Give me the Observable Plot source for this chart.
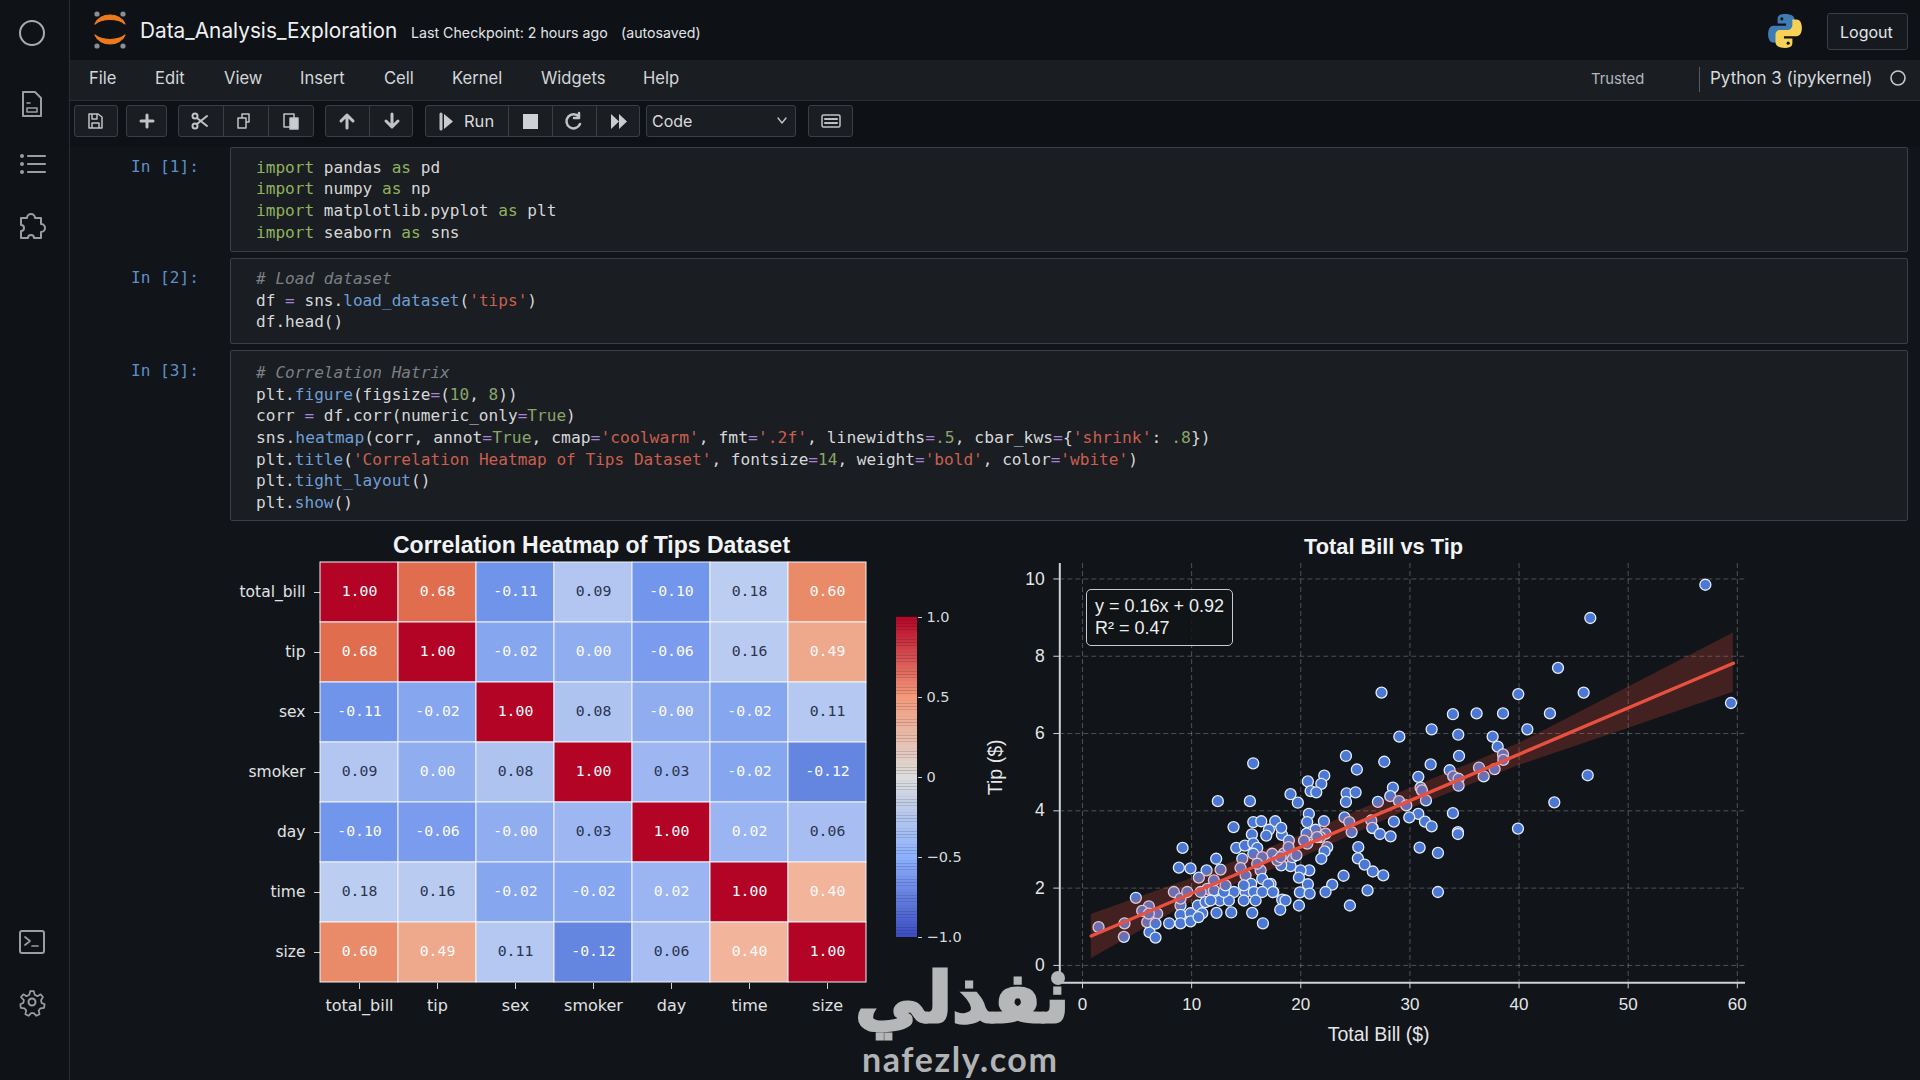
<!DOCTYPE html>
<html><head><meta charset="utf-8">
<script src="https://cdn.jsdelivr.net/npm/d3@7"></script>
<script src="https://cdn.jsdelivr.net/npm/@observablehq/plot@0.6"></script>
<style>
html,body{margin:0;padding:0;width:1920px;height:1080px;overflow:hidden;background:#111418;}
#page{position:absolute;left:0;top:0;width:1920px;height:1080px;background:#111418;font-family:Inter,Roboto,sans-serif;color:#e6e8ea;overflow:hidden;}
.a{position:absolute;white-space:pre;}
.t{transform:translateY(-50%);}
.cell{position:absolute;box-sizing:border-box;border:1px solid #3b4046;border-radius:2px;background:#1a1d21;left:230px;width:1678px;}
.code{font-family:"DejaVu Sans Mono",monospace;font-size:16.1px;color:#d6d8da;}
.code i{font-style:normal;} .k{color:#8fb35f}.f{color:#6f9fd6}.s{color:#cb5f50}.o{color:#a685d6}.n{color:#8aa56a}.c{color:#7b8085;font-style:italic!important}
svg{overflow:visible;display:block}
.plotbox{position:absolute;}
.plotbox svg{background:transparent!important;display:block;}
</style></head><body><div id="page"></div>
<script>
// ---------- chart data ----------
const heatLabels = ["total_bill","tip","sex","smoker","day","time","size"];
const corrTotalBill = [1,0.68,-0.11,0.09,-0.10,0.18,0.60];
const corrTip       = [0.68,1,-0.02,0.00,-0.06,0.16,0.49];
const corrSex       = [-0.11,-0.02,1,0.08,-0.001,-0.02,0.11];
const corrSmoker    = [0.09,0.00,0.08,1,0.03,-0.02,-0.12];
const corrDay       = [-0.10,-0.06,-0.001,0.03,1,0.02,0.06];
const corrTime      = [0.18,0.16,-0.02,-0.02,0.02,1,0.40];
const corrSize      = [0.60,0.49,0.11,-0.12,0.06,0.40,1];
const corrRows = [corrTotalBill,corrTip,corrSex,corrSmoker,corrDay,corrTime,corrSize];
const cellStops  = [-0.12,-0.11,-0.06,-0.02,0,0.02,0.06,0.09,0.18,0.40,0.49,0.60,0.68,1];
const cellColors = ["#6486e0","#7094ea","#7b9cee","#86a6f0","#90adf0","#9ab5f2","#a8bef2","#b2c6f1","#bccdf2","#f2b49a","#eea88c","#e98b69","#df6d4e","#b40426"];
const barStops  = [-1,-0.5,0,0.5,1];
const barColors = ["#3b4cc0","#8db0fe","#dddddd","#f49a7b","#b40426"];
const barTickLabels = ["\u22121.0","\u22120.5","0","0.5","1.0"];
const billTipPairs = [
[57.07,9.85],[46.53,8.99],[43.57,7.70],[59.42,6.79],[45.92,7.06],[39.93,7.02],[27.4,7.06],[33.94,6.50],[36.11,6.52],[38.53,6.52],[42.83,6.52],[40.76,6.11],[31.99,6.11],[29.03,5.92],[34.43,5.97],[37.58,5.92],[38.04,5.66],[38.53,5.46],[38.56,5.32],[34.5,5.42],[27.65,5.27],[31.9,5.20],[33.64,5.05],[36.33,5.12],[37.76,5.08],[36.76,4.89],[46.29,4.92],[30.77,4.88],[33.97,4.89],[34.46,4.83],[34.46,4.65],[28.44,4.60],[30.98,4.60],[31.1,4.53],[28.2,4.38],[27.07,4.23],[31.47,4.27],[29.0,4.25],[29.67,4.14],[43.23,4.22],[33.94,3.94],[30.77,3.92],[29.94,3.83],[28.53,3.72],[31.38,3.72],[31.99,3.60],[39.9,3.54],[34.4,3.45],[26.6,3.55],
[24.14,5.42],[25.14,5.07],[22.15,4.91],[20.65,4.76],[21.88,4.70],[20.9,4.51],[21.42,4.48],[19.06,4.43],[19.73,4.21],[24.2,4.45],[25.02,4.48],[24.14,4.23],[20.74,3.92],[20.59,3.71],[17.66,3.73],[22.12,3.73],[21.36,3.51],[20.53,3.41],[24.01,3.83],[24.44,3.71],[24.66,3.45],[26.46,3.75],[26.55,3.56],[27.25,3.40],[28.23,3.34],[18.27,3.38],[18.21,3.56],[18.91,3.23],[22.27,3.41],[21.8,3.32],[20.59,3.15],[22.42,3.06],[22.18,2.95],[21.88,2.76],[25.27,3.06],[25.23,2.77],[25.85,2.61],[26.6,2.43],[27.56,2.33],[23.92,2.32],[22.88,2.09],[22.27,1.90],[26.12,1.94],[24.5,1.55],[30.89,3.05],[32.57,2.91],[34.4,3.40],[32.57,1.90],[20.78,2.46],[19.98,2.46],[19.83,2.27],[20.65,2.10],[19.92,1.89],[20.81,1.86],[19.83,1.55],[17.48,1.90],[18.3,1.70],[18.6,1.68],[18.12,1.44],[19.06,2.57],[18.21,2.59],[19.22,2.80],[18.45,2.90],[18.88,3.06],[17.85,2.80],[20.3,3.23],[21.5,3.32],[17.38,2.89],[17.23,2.11],
[9.17,3.04],[13.84,3.58],[15.65,3.71],[16.38,3.73],[17.08,3.51],[15.52,3.39],[16.84,3.36],[14.09,3.04],[14.88,3.10],[15.65,3.16],[16.01,3.04],[15.65,2.89],[14.64,2.76],[17.85,2.72],[12.25,2.76],[8.83,2.53],[9.9,2.51],[12.65,2.48],[11.37,2.46],[10.66,2.27],[14.48,2.52],[14.94,2.33],[16.32,2.46],[16.47,2.24],[15.46,2.11],[17.02,2.10],[13.87,1.90],[14.94,1.90],[15.7,1.90],[16.47,1.90],[17.44,1.90],[12.59,1.68],[13.41,1.68],[14.78,1.68],[15.86,1.68],[8.37,1.90],[4.89,1.75],[6.08,1.53],[5.47,1.41],[6.84,1.34],[8.98,1.55],[8.98,1.31],[9.9,1.35],[10.57,1.55],[10.97,1.35],[12.28,1.36],[13.63,1.37],[15.55,1.36],[16.53,1.09],[7.94,1.09],[8.98,1.09],[9.9,1.14],[3.85,1.09],[3.79,0.74],[6.14,0.86],[6.69,0.72],[5.93,1.12],[6.69,1.08],[10.63,1.25],[11.43,1.98],[12.04,1.94],[12.95,1.90],[11.27,1.64],[8.98,1.73],[9.6,1.90],[10.82,1.90],[11.73,1.68],[6.08,1.34],[1.47,0.99],[19.6,2.85],[18.15,2.80],[16.47,2.80],[14.78,2.07],[13.1,2.07],[12.04,2.20],[16.01,2.63],[12.4,4.25],[15.34,4.25],[15.64,5.23]
];
const lineBill = [0.8,59.64];
const lineTip  = [0.76,7.82];
const bandBill = [0.8,10,20,30,40,50,59.64];
const bandLow  = [0.17,1.64,2.77,4.05,5.17,6.13,7.07];
const bandHigh = [1.32,2.25,3.36,4.58,5.74,7.20,8.60];
const scatterXTicks = [0,10,20,30,40,50,60];
const scatterYTicks = [0,2,4,6,8,10];

// ---------- page chrome ----------
const page = document.getElementById("page");
function rect(x,y,w,h,css){const d=document.createElement("div");d.className="a";d.style.cssText=`left:${x}px;top:${y}px;width:${w}px;height:${h}px;${css||""}`;page.appendChild(d);return d;}
function txt(s,x,cy,css){const d=document.createElement("div");d.className="a t";d.style.cssText=`left:${x}px;top:${cy}px;${css||""}`;d.textContent=s;page.appendChild(d);return d;}
function html(s,x,cy,cls,css){const d=document.createElement("div");d.className="a t "+(cls||"");d.style.cssText=`left:${x}px;top:${cy}px;${css||""}`;d.innerHTML=s;page.appendChild(d);return d;}
function icon(inner,x,y,w,h,vb){const d=document.createElement("div");d.className="a";d.style.cssText=`left:${x}px;top:${y}px;width:${w}px;height:${h}px`;d.innerHTML=`<svg xmlns="http://www.w3.org/2000/svg" width="${w}" height="${h}" viewBox="${vb||`0 0 ${w} ${h}`}" fill="none" stroke="#c0c3c7" stroke-width="2" stroke-linecap="round" stroke-linejoin="round">${inner}</svg>`;page.appendChild(d);}

rect(0,0,69,1080,"background:#0f1216;border-right:1.5px solid #2a2e33;");
rect(70,0,1850,60,"background:#0e1116;");
rect(70,60,1850,41,"background:#1a1e22;border-bottom:1px solid #2a2e33;box-sizing:border-box;");
rect(70,101,1850,46,"background:#0e1116;");
// sidebar icons
icon(`<circle cx="14" cy="14" r="12" stroke="#a8abb0"/>`,18,19,28,28);
icon(`<path d="M4 2h12l6 6v18H4z" stroke="#9a9da2"/><path d="M8 13h3M8 18h10v4H8z" stroke-width="1.6" stroke="#9a9da2"/>`,19,90,26,28);
icon(`<path d="M9 4h17M9 12h17M9 20h17" stroke-width="2.2" stroke="#9a9da2"/><circle cx="3" cy="4" r="1" stroke="#9a9da2"/><circle cx="3" cy="12" r="1" stroke="#9a9da2"/><circle cx="3" cy="20" r="1" stroke="#9a9da2"/>`,19,152,28,24);
icon(`<path d="M3 9h6a4 4 0 1 1 8 0h6v6a4 4 0 1 1 0 8v6h-7a3 3 0 1 0-6 0H3v-7a3 3 0 1 0 0-6z" stroke="#9a9da2"/>`,18,209,28,30);
icon(`<rect x="2" y="2" width="24" height="22" rx="2" stroke="#9a9da2"/><path d="M7 8l5 4-5 4M14 17h6" stroke-width="1.7" stroke="#9a9da2"/>`,18,929,28,26);
icon(`<circle cx="14" cy="14" r="3.5" stroke="#9a9da2"/><path d="M12 2h4l1 4 3 1.5 3.6-2 2.6 3-2.2 3.5.6 3 3.4 1.5-.6 4-4 .5-2 2.6 1 4-3.6 1.8-2.8-3h-3l-2.8 3-3.6-1.8 1-4-2-2.6-4-.5-.6-4 3.4-1.5.6-3L1.800 8.500l2.600-3 3.600 2L11 6z" transform="translate(1.4 1.4) scale(.9)" stroke-width="1.9" stroke="#9a9da2"/>`,18,988,28,28);
// logo
icon(`<path d="M5 15C10 3 30 3 35 15 28 9 12 9 5 15zM5 26c5 12 25 12 30 0-7 6-23 6-30 0z" fill="#ec7a1c" stroke="#ec7a1c" stroke-width="1.2"/><circle cx="7" cy="5" r="2.600" fill="#8a8f96" stroke="none"/><circle cx="33" cy="5" r="2.600" fill="#8a8f96" stroke="none"/><circle cx="7" cy="37" r="2.600" fill="#8a8f96" stroke="none"/><circle cx="33" cy="37" r="2.600" fill="#8a8f96" stroke="none"/>`,90,9,40,42);
txt("Data_Analysis_Exploration",140,30,"font-size:20.8px;color:#eef0f2;");
txt("Last Checkpoint: 2 hours ago",411,31.5,"font-size:14.2px;color:#e2e4e6;");
txt("(autosaved)",621,31.5,"font-size:14.2px;color:#e2e4e6;");
// python logo
icon(`<path d="M17 2c-7 0-7 3-7 5v4h8v2H6c-3 0-5 3-5 8s2 8 5 8h4v-5c0-3 2-5 5-5h7c2 0 4-2 4-4V7c0-3-3-5-9-5z" fill="#3f7cb4" stroke="none"/><path d="M17 34c7 0 7-3 7-5v-4h-8v-2h12c3 0 5-3 5-8s-2-8-5-8h-4v5c0 3-2 5-5 5h-7c-2 0-4 2-4 4v8c0 3 3 5 9 5z" fill="#f5d255" stroke="none"/><circle cx="14" cy="6.500" r="1.500" fill="#0e1116" stroke="none"/><circle cx="20" cy="29.500" r="1.500" fill="#0e1116" stroke="none"/>`,1766,12,38,38,"0 0 34 36");
rect(1827,13,81,37,"box-sizing:border-box;border:1px solid #3a3f45;border-radius:3px;background:#16191d;");
txt("Logout",1840,31.5,"font-size:16px;color:#e4e6e8;");
// menu
[["File",89],["Edit",155],["View",224],["Insert",300],["Cell",384],["Kernel",452],["Widgets",541],["Help",643]].forEach(([s,x])=>txt(s,x,78,"font-size:16.6px;color:#d4d6d9;"));
txt("Trusted",1591,78.5,"font-size:14.8px;color:#b4b7bb;");
rect(1699,67,1,25,"background:#555a60;");
txt("Python 3 (ipykernel)",1710,78,"font-size:17px;color:#d8dadd;");
icon(`<circle cx="9" cy="9" r="7" stroke="#c6c9cd" stroke-width="1.600"/>`,1889,69,18,18);
// toolbar
function btn(x,w,css){rect(x,105,w,32,"box-sizing:border-box;border:1px solid #3a3f45;border-radius:3px;background:#1a1d21;"+(css||""));}
btn(74,44);btn(126,41);btn(178,136);btn(325,88);btn(425,215);btn(808,45);
[223,268,369,508,552,596].forEach(x=>rect(x,105,1,32,"background:#3a3f45;"));
icon(`<path d="M2 2h9l4 3v11H2zM5 2v5h5V2M5 16v-5h7v5" stroke-width="1.500"/>`,87,112,18,18);
icon(`<path d="M8 2v12M2 8h12" stroke-width="3"/>`,139,113,16,16);
icon(`<circle cx="4" cy="4" r="2.500"/><circle cx="4" cy="14" r="2.500"/><path d="M6 6l10 8M6 12L16 4"/>`,191,112,18,18);
icon(`<path d="M6 6V2h7v8h-3M2 6h8v10H2z" stroke-width="1.500"/>`,236,112,17,18);
icon(`<path d="M2 3h10v13H2z" stroke-width="1.500"/><path d="M8 7h8v11H8z" stroke-width="1.500" fill="#c9ccd0"/>`,282,111,18,20);
icon(`<path d="M8 16V3M2 9l6-6 6 6" stroke-width="3"/>`,339,112,16,18);
icon(`<path d="M8 2v13M2 9l6 6 6-6" stroke-width="3"/>`,384,112,16,18);
icon(`<path d="M5 1l9 7.500L5 16z" fill="#c9ccd0" stroke="none"/><path d="M2 1v15" stroke-width="3"/>`,439,113,16,17);
txt("Run",464,121,"font-size:16.5px;color:#d8dadd;");
rect(523,114,15,15,"background:#cfd2d5;");
icon(`<path d="M14 5a7 7 0 1 0 1 7M14 1v5h-5" stroke-width="2.500"/>`,565,112,18,18);
icon(`<path d="M1 1l8 7.500L1 16zM9 1l8 7.500L9 16z" fill="#c9ccd0" stroke="none"/>`,610,113,18,17);
rect(646,105,150,32,"box-sizing:border-box;border:1px solid #3a3f45;border-radius:3px;background:#1a1d21;");
txt("Code",652,121,"font-size:16px;color:#d8dadd;");
icon(`<path d="M1 1l4 5 4-5" stroke-width="1.400"/>`,777,117,10,8);
icon(`<rect x="1" y="1" width="18" height="12" rx="1.500" stroke-width="1.500"/><path d="M4 5h12M4 9h12" stroke-width="2" stroke-dasharray="2 1.500"/>`,821,114,20,14);
// notebook cells
[[147,105],[258,86],[350,171]].forEach(([y,h])=>{const d=document.createElement("div");d.className="cell";d.style.top=y+"px";d.style.height=h+"px";page.appendChild(d);});
[["In [1]:",165.5],["In [2]:",276.5],["In [3]:",369.5]].forEach(([s,y])=>html(s,131,y,"code","color:#5f8fc8;"));
const kw=s=>`<i class=k>${s}</i>`, fn=s=>`<i class=f>${s}</i>`, st=s=>`<i class=s>${s}</i>`, op=`<i class=o>=</i>`, nm=s=>`<i class=n>${s}</i>`, cm=s=>`<i class=c>${s}</i>`;
const codeLines=[
 [166.5,`${kw("import")} pandas ${kw("as")} pd`],
 [188,`${kw("import")} numpy ${kw("as")} np`],
 [209.5,`${kw("import")} matplotlib.pyplot ${kw("as")} plt`],
 [231.5,`${kw("import")} seaborn ${kw("as")} sns`],
 [277.5,cm("# Load dataset")],
 [299.5,`df ${op} sns.${fn("load_dataset")}(${st("'tips'")})`],
 [320.5,`df.head()`],
 [371.5,cm("# Correlation Hatrix")],
 [393.5,`plt.${fn("figure")}(figsize${op}(${nm("10")}, ${nm("8")}))`],
 [414.5,`corr ${op} df.corr(numeric_only${op}${nm("True")})`],
 [436.5,`sns.${fn("heatmap")}(corr, annot${op}${nm("True")}, cmap${op}${st("'coolwarm'")}, fmt${op}${st("'.2f'")}, linewidths${op}${nm(".5")}, cbar_kws${op}{${st("'shrink'")}: ${nm(".8")}})`,"font-size:16.35px"],
 [458.5,`plt.${fn("title")}(${st("'Correlation Heatmap of Tips Dataset'")}, fontsize${op}${nm("14")}, weight${op}${st("'bold'")}, color${op}${st("'wbite'")})`],
 [479.5,`plt.${fn("tight_layout")}()`],
 [501.5,`plt.${fn("show")}()`]
];
codeLines.forEach(([y,s,css])=>html(s,256,y,"code",css));

// ---------- heatmap ----------
const corrTable = corrRows.flatMap((row,i)=>row.map((v,j)=>({row:heatLabels[i],col:heatLabels[j],v})));
const heatFont = '"DejaVu Sans",sans-serif';
const heat = Plot.plot({
  width:660,height:510,marginLeft:100,marginRight:14,marginTop:31,marginBottom:57,
  style:{background:"transparent",color:"#e0e2e4",fontFamily:heatFont,fontSize:"16px"},
  x:{domain:heatLabels,padding:0,label:null,tickSize:0},
  y:{domain:heatLabels,padding:0,label:null},
  color:{type:"linear",domain:cellStops,range:cellColors,interpolate:"rgb"},
  marks:[
    Plot.axisX({tickSize:6,tickPadding:10,label:null,fontSize:16,stroke:"#cfd2d5"}),
    Plot.axisY({tickSize:6,tickPadding:9,label:null,fontSize:15.5,stroke:"#cfd2d5"}),
    Plot.cell(corrTable,{x:"col",y:"row",fill:"v",stroke:"#f0f3f8",strokeWidth:1,inset:0}),
    Plot.text(corrTable,{x:"col",y:"row",dy:-1,text:d=>d.v.toFixed(2),fontSize:14.8,fontFamily:'"DejaVu Sans Mono",monospace',
      fill:d=>(d.v>=0.03&&d.v<=0.2)?"#2b3450":"#fbfbfb"})
  ]
});
const hb=document.createElement("div");hb.className="plotbox";hb.style.cssText="left:220px;top:530px";hb.appendChild(heat);page.appendChild(hb);
txt("Correlation Heatmap of Tips Dataset",393,544.5,'font-family:"Liberation Sans",sans-serif;font-weight:700;font-size:23px;color:#f2f3f5;');

// ---------- colorbar ----------
const barSteps = d3.range(-1,1,0.02);
const bar = Plot.plot({
  width:90,height:340,marginLeft:6,marginRight:63,marginTop:10,marginBottom:10,
  style:{background:"transparent",color:"#d8dadd",fontFamily:heatFont},
  x:{axis:null,domain:[0,1]},
  y:{domain:[-1,1],label:null},
  color:{type:"linear",domain:barStops,range:barColors,interpolate:"rgb"},
  marks:[
    Plot.rect(barSteps,{x1:0,x2:1,y1:d=>d,y2:d=>d+0.021,fill:d=>d+0.01}),
    Plot.axisY({anchor:"right",ticks:barStops,tickFormat:(d,i)=>barTickLabels[i],tickSize:4,tickPadding:5,label:null,fontSize:14.5,stroke:"#cfd2d5"})
  ]
});
const bb=document.createElement("div");bb.className="plotbox";bb.style.cssText="left:890px;top:606.5px";bb.appendChild(bar);page.appendChild(bb);

// ---------- scatter ----------
const sansFont='"Liberation Sans",Arial,sans-serif';
const lineData=lineBill.map((x,i)=>({x,y:lineTip[i]}));
const bandData=bandBill.map((x,i)=>({x,lo:bandLow[i],hi:bandHigh[i]}));
const gridCss={stroke:"#ffffff",strokeOpacity:0.26,strokeDasharray:"5,3",strokeWidth:1};
const scatter = Plot.plot({
  width:790,height:530,marginLeft:79.3,marginRight:25,marginTop:33,marginBottom:77.7,
  style:{background:"transparent",color:"#e4e6e8",fontFamily:sansFont},
  x:{domain:[-2.08,60.75],label:null},
  y:{domain:[-0.45,10.4],label:null},
  marks:[
    Plot.gridX(scatterXTicks,gridCss),
    Plot.gridY(scatterYTicks,gridCss),
    Plot.dot(billTipPairs,{x:"0",y:"1",r:5.5,fill:"#4a78d4",stroke:"#e6ecf6",strokeWidth:1.3}),
    Plot.areaY(bandData,{x:"x",y1:"lo",y2:"hi",fill:"#e74c3c",fillOpacity:0.23}),
    Plot.line(lineData,{x:"x",y:"y",stroke:"#e8503f",strokeWidth:3.4}),
    Plot.ruleX([-2.08],{stroke:"#d0d3d6",strokeWidth:2}),
    Plot.ruleY([-0.45],{stroke:"#d0d3d6",strokeWidth:2}),
    Plot.axisX({ticks:scatterXTicks,tickSize:6,tickPadding:9,label:null,fontSize:17,stroke:"#cfd2d5"}),
    Plot.axisY({ticks:scatterYTicks,tickSize:6,tickPadding:9,label:null,fontSize:17.5,stroke:"#cfd2d5"}),
    Plot.text(["Total Bill ($)"],{frameAnchor:"bottom",dx:-24,dy:58,fontSize:19.5,fill:"#e4e6e8"}),
    Plot.text(["Tip ($)"],{frameAnchor:"left",rotate:-90,dx:-64,dy:22,fontSize:19.5,fill:"#e4e6e8"})
  ]
});
const sb=document.createElement("div");sb.className="plotbox";sb.style.cssText="left:980px;top:530px";sb.appendChild(scatter);page.appendChild(sb);
txt("Total Bill vs Tip",1304,546.5,`font-family:${sansFont};font-weight:700;font-size:21.8px;color:#f2f3f5;`);
// fit annotation
rect(1086,589,147,57,"box-sizing:border-box;border:1px solid #c8cbce;border-radius:5px;background:rgba(17,20,24,.85);");
txt("y = 0.16x + 0.92",1095,606,`font-family:${sansFont};font-size:18px;color:#eceef0;`);
txt("R\u00b2 = 0.47",1095,628,`font-family:${sansFont};font-size:18px;color:#eceef0;`);

// ---------- watermark ----------
rect(1051,971,14,14,"background:#b4b6b8;border-radius:50%;");
txt("\u0646\u0641\u0630\u0644\u064a",855,998,'font-family:"DejaVu Sans",sans-serif;font-weight:700;font-size:70px;line-height:50px;color:#b6b7b9;-webkit-text-stroke:3px #b6b7b9;paint-order:stroke;');
txt("nafezly.com",862,1058,'font-family:Lato,Inter,sans-serif;font-weight:700;font-size:34px;color:#b2b3b5;letter-spacing:1.6px;');
</script></body></html>
